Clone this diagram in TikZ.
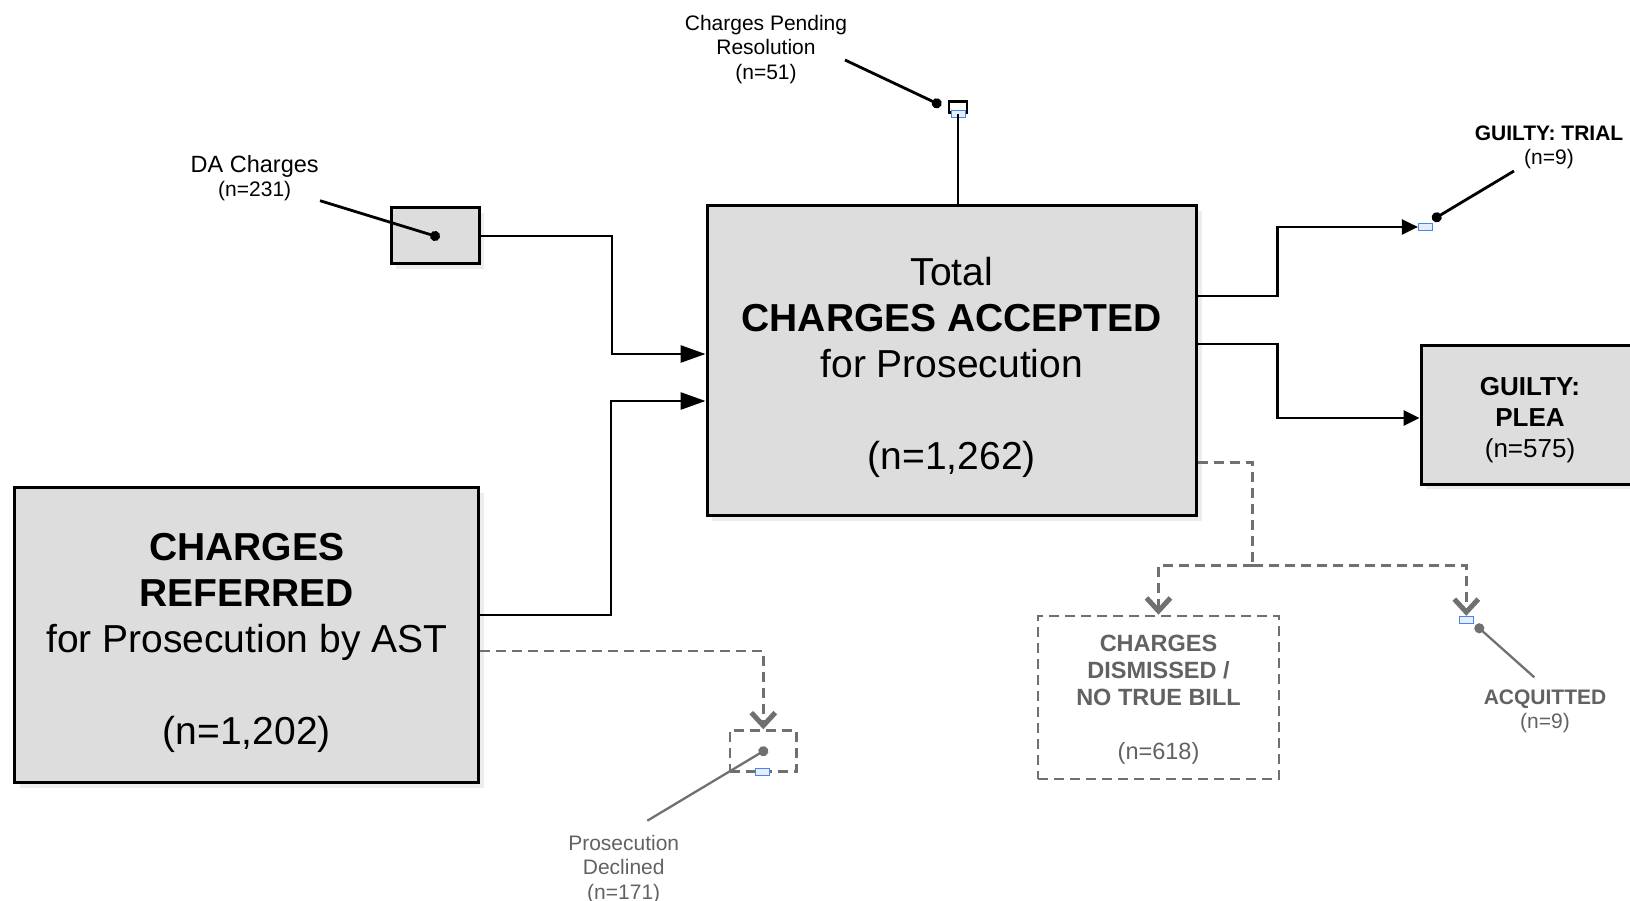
\documentclass[tikz,border=0pt]{standalone}
\usepackage{fontspec}
\setmainfont{Liberation Sans}
\usetikzlibrary{arrows.meta,shadows}
\definecolor{cBox}{HTML}{DDDDDD}
\definecolor{cDash}{HTML}{707070}
\definecolor{cGrayTxt}{HTML}{626262}
\definecolor{cSel}{HTML}{4A86E8}
\newcommand{\fBig}{\fontsize{39}{46}\selectfont}
\newcommand{\fPlea}{\fontsize{26}{30.7}\selectfont}
\newcommand{\fDism}{\fontsize{23.5}{27}\selectfont}
\newcommand{\fCall}{\fontsize{21}{24.5}\selectfont}
\newcommand{\dn}[1]{\rule{0pt}{#1}}

\begin{document}
\begin{tikzpicture}[x=1pt,y=-1pt,
  box/.style={draw=black,line width=3pt,fill=cBox,align=center,inner sep=0pt,
    drop shadow={opacity=0.14,shadow xshift=5pt,shadow yshift=-5pt}},
  dbox/.style={draw=cDash,line width=2.8pt,dash pattern=on 10pt off 6pt,
    align=center,inner sep=0pt,text=cGrayTxt},
  flow/.style={line width=2.8pt,-{Triangle[length=25pt,width=17pt]}},
  flowS/.style={line width=2.8pt,-{Triangle[length=16pt,width=15pt]}},
  dflow/.style={draw=cDash,line width=2.8pt,dash pattern=on 10pt off 6pt,
    -{Straight Barb[length=13pt,width=24pt,line width=5pt]}},
  callout/.style={line width=2.8pt,-{Circle[length=10pt]},shorten >=-5pt},
  gcallout/.style={line width=2.3pt,draw=cDash,-{Circle[length=10pt]},shorten >=-5pt},
  sel/.style={draw=cSel,line width=0.8pt,fill=cSel!15,inner sep=0pt,
    minimum width=14pt,minimum height=7pt}]

\useasboundingbox (0,0) rectangle (1630,901);

%============================ BOXES ============================
\node[box,minimum width=464pt,minimum height=295pt,font=\fBig] (referred) at (246.8,635.2)
  {\dn{42pt}\textbf{CHARGES}\\\textbf{REFERRED}\\for Prosecution by AST\\[46pt](n=1,202)};
\node[box,minimum width=88pt,minimum height=56pt] (da) at (435,236) {};
\node[box,minimum width=489.5pt,minimum height=309.6pt,font=\fBig] (total) at (951.8,360.8)
  {\dn{42pt}Total\\\textbf{CHARGES ACCEPTED}\\for Prosecution\\[46pt](n=1,262)};
\node[box,minimum width=218pt,minimum height=139pt,font=\fPlea] (plea) at (1530,414.5)
  {\dn{29pt}\textbf{GUILTY:}\\\textbf{PLEA}\\(n=575)};
\node[dbox,minimum width=241pt,minimum height=163pt,font=\fDism] (dismissed) at (1158.5,697.5)
  {\dn{20pt}\textbf{CHARGES}\\\textbf{DISMISSED /}\\\textbf{NO TRUE BILL}\\[27pt](n=618)};
\node[dbox,minimum width=66.7pt,minimum height=41pt] (declined) at (763.3,751.2) {};
\node[draw=black,line width=2.4pt,fill=white,inner sep=0pt,
  minimum width=18pt,minimum height=11pt] (pending) at (958,107) {};

% small selected shapes
\node[sel] (pendSel) at (958.7,114) {};
\node[sel] (trial) at (1425.3,227) {};
\node[sel] (acq) at (1466.3,619.7) {};
\node[sel] (declSel) at (762.5,771.7) {};

%============================ LABELS ============================
\node[font=\fCall,align=center] (pendLbl) at (766,49.5)
  {Charges Pending\\Resolution\\(n=51)};
\node[font=\fCall,align=center] (daLbl) at (254.7,178)
  {{\fontsize{23.5}{26}\selectfont DA Charges}\\(n=231)};
\node[font=\fCall,align=center] (trialLbl) at (1549,147.5)
  {\textbf{GUILTY: TRIAL}\\(n=9)};
\node[font=\fCall,align=center,text=cGrayTxt] (acqLbl) at (1545,711.5)
  {\textbf{ACQUITTED}\\(n=9)};
\node[font=\fCall,align=center,text=cGrayTxt] (declLbl) at (623.7,869.5)
  {Prosecution\\Declined\\(n=171)};

%============================ CONNECTORS ============================
\draw[flow] (da.east) -| (612,354) -- (total.west |- 0,354);
\draw[flow] (referred.east |- 0,615) -| (611,401) -- (total.west |- 0,401);
\draw[line width=1.2pt] (pending.south |- total.north) -- (pending.south);
\draw[flowS] (total.east |- 0,296) -| (1277.5,227) -- (trial.west);
\draw[flowS] (total.east |- 0,344) -| (1277.5,418) -- (plea.west |- 0,418);

\draw[dflow,-] (total.east |- 0,462.6) -| (1252.6,565.5) coordinate (split);
\draw[dflow] (split) -| (dismissed.north);
\draw[dflow] (split) -| (acq.north);
\draw[dflow] (referred.east |- 0,651) -| (declined.north);

% callouts
\coordinate (pendEnd) at (845,60);
\coordinate (pendDot) at (936.7,103.3);
\coordinate (daEnd) at (320,200.7);
\coordinate (trialEnd) at (1514,171);
\coordinate (trialDot) at (1436.7,217.3);
\coordinate (acqEnd) at (1534.3,677.3);
\coordinate (acqDot) at (1479.3,628.3);
\coordinate (declEnd) at (647.3,820.7);
\draw[callout] (pendEnd) -- (pendDot);
\draw[callout] (daEnd) -- (da.center);
\draw[callout] (trialEnd) -- (trialDot);
\draw[gcallout] (acqEnd) -- (acqDot);
\draw[gcallout] (declEnd) -- (declined.center);

\end{tikzpicture}
\end{document}
